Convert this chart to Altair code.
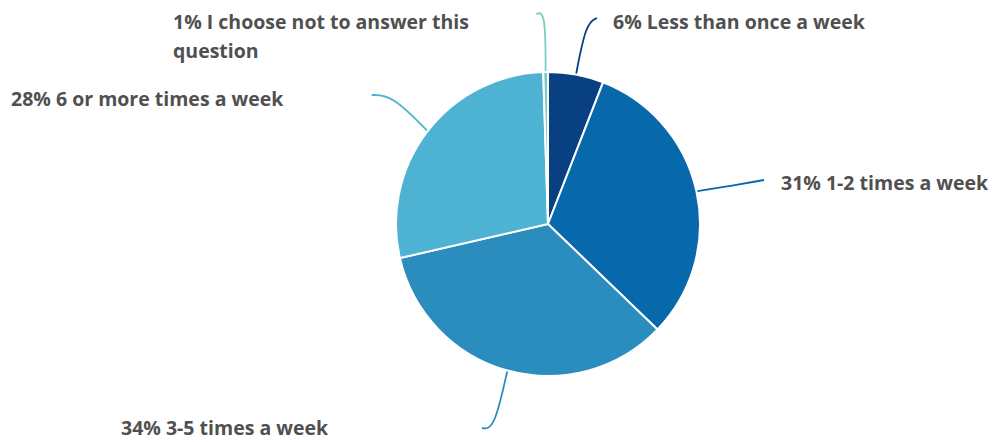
import altair as alt
import pandas as pd
import numpy as np

# ---- data ----
categories = [
    "Less than once a week",
    "1-2 times a week",
    "3-5 times a week",
    "6 or more times a week",
    "I choose not to answer this question",
]
shares = [5.9, 31.3, 34.2, 28.1, 0.5]
pct_labels = ["6%", "31%", "34%", "28%", "1%"]
label_texts = [
    "6% Less than once a week",
    "31% 1-2 times a week",
    "34% 3-5 times a week",
    "28% 6 or more times a week",
    "1% I choose not to answer this\nquestion",
]
colors = ["#084081", "#0868ac", "#2b8cbe", "#4eb3d3", "#7bccc4"]

# ---- layout (page pixels minus 8px margin) ----
W, H = 982, 426
CX, CY, R = 540, 216, 152
# label anchor (left, baseline), leader control point and end point, in chart px
label_pos = [(605, 21), (773, 182), (113, 427), (3, 98), (165, 21)]
ctrl_pts = [(578, 15), (722, 178), (486, 422), (384, 87), (537.5, 3)]
end_pts = [(589, 10), (756, 172), (474, 420), (363.7, 87), (528, 6)]

df = pd.DataFrame({"category": categories, "share": shares, "order": range(5)})

color_scale = alt.Scale(domain=categories, range=colors)

pie = alt.Chart(df).mark_arc(
    outerRadius=R, stroke="white", strokeWidth=2
).encode(
    theta=alt.Theta("share:Q", stack=True),
    order=alt.Order("order:Q"),
    color=alt.Color("category:N", scale=color_scale, legend=None),
    x=alt.value(CX),
    y=alt.value(CY),
)

# leader lines: start on the pie edge at each slice's mid angle
cum = np.cumsum([0] + shares)
total = sum(shares)
rows = []
for i, c in enumerate(categories):
    mid = (cum[i] + shares[i] / 2) / total * 2 * np.pi
    sx = CX + R * np.sin(mid)
    sy = CY - R * np.cos(mid)
    pts = [(sx, sy), ctrl_pts[i], end_pts[i]]
    for k, (px, py) in enumerate(pts):
        rows.append({"category": c, "k": k, "px": px, "py": py})
lines_df = pd.DataFrame(rows)

leaders = alt.Chart(lines_df).mark_line(
    interpolate="basis", strokeWidth=1.8
).encode(
    x=alt.X("px:Q", scale=None),
    y=alt.Y("py:Q", scale=None),
    detail="category:N",
    order="k:Q",
    color=alt.Color("category:N", scale=color_scale, legend=None),
)

lab_df = pd.DataFrame({
    "label": label_texts,
    "lx": [p[0] for p in label_pos],
    "ly": [p[1] for p in label_pos],
})

labels = alt.Chart(lab_df).mark_text(
    align="left", baseline="alphabetic", font="Open Sans", fontWeight="bold",
    fontSize=19.5, color="#505050", lineBreak="\n", lineHeight=29,
).encode(
    x=alt.X("lx:Q", scale=None),
    y=alt.Y("ly:Q", scale=None),
    text="label:N",
)

chart = alt.layer(leaders, pie, labels).properties(
    width=W, height=H,
    padding={"left": 0, "top": 0, "right": 0, "bottom": 12},
).configure_view(stroke=None)

chart.save("out.html", embed_options={"renderer": "svg", "actions": False})
